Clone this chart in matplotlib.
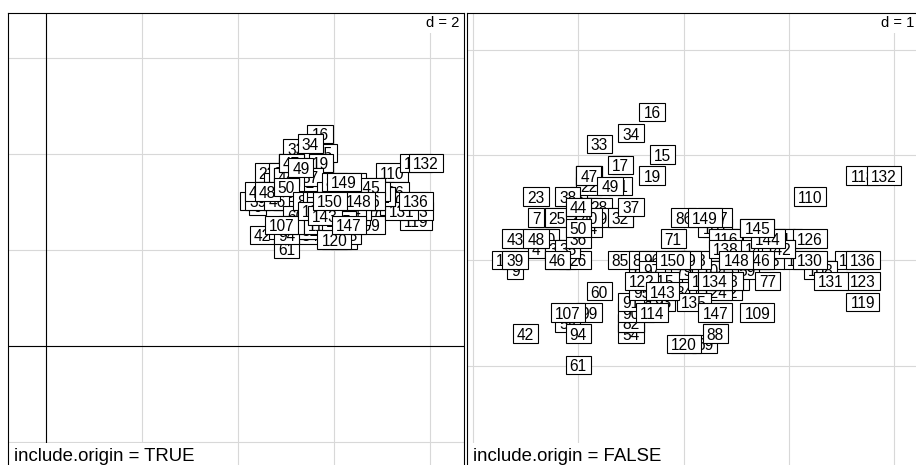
import math
import matplotlib
matplotlib.use("Agg")
import matplotlib.pyplot as plt
import matplotlib.transforms as mtransforms
from matplotlib.path import Path

# Iris sepal measurements (labels 1..150)
sepal_length = [
    5.1, 4.9, 4.7, 4.6, 5.0, 5.4, 4.6, 5.0, 4.4, 4.9,
    5.4, 4.8, 4.8, 4.3, 5.8, 5.7, 5.4, 5.1, 5.7, 5.1,
    5.4, 5.1, 4.6, 5.1, 4.8, 5.0, 5.0, 5.2, 5.2, 4.7,
    4.8, 5.4, 5.2, 5.5, 4.9, 5.0, 5.5, 4.9, 4.4, 5.1,
    5.0, 4.5, 4.4, 5.0, 5.1, 4.8, 5.1, 4.6, 5.3, 5.0,
    7.0, 6.4, 6.9, 5.5, 6.5, 5.7, 6.3, 4.9, 6.6, 5.2,
    5.0, 5.9, 6.0, 6.1, 5.6, 6.7, 5.6, 5.8, 6.2, 5.6,
    5.9, 6.1, 6.3, 6.1, 6.4, 6.6, 6.8, 6.7, 6.0, 5.7,
    5.5, 5.5, 5.8, 6.0, 5.4, 6.0, 6.7, 6.3, 5.6, 5.5,
    5.5, 6.1, 5.8, 5.0, 5.6, 5.7, 5.7, 6.2, 5.1, 5.7,
    6.3, 5.8, 7.1, 6.3, 6.5, 7.6, 4.9, 7.3, 6.7, 7.2,
    6.5, 6.4, 6.8, 5.7, 5.8, 6.4, 6.5, 7.7, 7.7, 6.0,
    6.9, 5.6, 7.7, 6.3, 6.7, 7.2, 6.2, 6.1, 6.4, 7.2,
    7.4, 7.9, 6.4, 6.3, 6.1, 7.7, 6.3, 6.4, 6.0, 6.9,
    6.7, 6.9, 5.8, 6.8, 6.7, 6.7, 6.3, 6.5, 6.2, 5.9,
]
sepal_width = [
    3.5, 3.0, 3.2, 3.1, 3.6, 3.9, 3.4, 3.4, 2.9, 3.1,
    3.7, 3.4, 3.0, 3.0, 4.0, 4.4, 3.9, 3.5, 3.8, 3.8,
    3.4, 3.7, 3.6, 3.3, 3.4, 3.0, 3.4, 3.5, 3.4, 3.2,
    3.1, 3.4, 4.1, 4.2, 3.1, 3.2, 3.5, 3.6, 3.0, 3.4,
    3.5, 2.3, 3.2, 3.5, 3.8, 3.0, 3.8, 3.2, 3.7, 3.3,
    3.2, 3.2, 3.1, 2.3, 2.8, 2.8, 3.3, 2.4, 2.9, 2.7,
    2.0, 3.0, 2.2, 2.9, 2.9, 3.1, 3.0, 2.7, 2.2, 2.5,
    3.2, 2.8, 2.5, 2.8, 2.9, 3.0, 2.8, 3.0, 2.9, 2.6,
    2.4, 2.4, 2.7, 2.7, 3.0, 3.4, 3.1, 2.3, 3.0, 2.5,
    2.6, 3.0, 2.6, 2.3, 2.7, 3.0, 2.9, 2.9, 2.5, 2.8,
    3.3, 2.7, 3.0, 2.9, 3.0, 3.0, 2.5, 2.9, 2.5, 3.6,
    3.2, 2.7, 3.0, 2.5, 2.8, 3.2, 3.0, 3.8, 2.6, 2.2,
    3.2, 2.8, 2.8, 2.7, 3.3, 3.2, 2.8, 3.0, 2.8, 3.0,
    2.8, 3.8, 2.8, 2.8, 2.6, 3.0, 3.4, 3.1, 3.0, 3.1,
    3.1, 3.1, 2.7, 3.2, 3.3, 3.0, 2.5, 3.0, 3.4, 3.0,
]
point_labels = [str(i) for i in range(1, 151)]
panel_titles = ["include.origin = TRUE", "include.origin = FALSE"]
grid_steps = ["d = 2", "d = 1"]

FONT = "Liberation Sans"
W, H, DPI = 916, 465, 100
fig = plt.figure(figsize=(W / DPI, H / DPI), dpi=DPI)
fig.patch.set_facecolor("white")

LABEL_FS = 11.2  # points


def label_box(x0, y0, width, height, mutation_size):
    padx = 0.26 * mutation_size
    h = 1.18 * mutation_size
    cy = y0 + height - 0.37 * mutation_size
    xa, xb = x0 - padx, x0 + width + padx
    ya, yb = cy - h / 2, cy + h / 2
    return Path([(xa, ya), (xb, ya), (xb, yb), (xa, yb), (xa, ya)], closed=True)


def make_panel(left_px, top_px, size_px, xlim, ylim, step, step_txt, title,
               origin, d_right_off):
    ax = fig.add_axes([left_px / W, (H - top_px - size_px) / H, size_px / W, size_px / H])
    ax.set_xlim(*xlim)
    ax.set_ylim(*ylim)
    ax.set_xticks([])
    ax.set_yticks([])
    for s in ax.spines.values():
        s.set_color("black")
        s.set_linewidth(0.8)
        s.set_zorder(10)
    # grid
    k0 = math.ceil(xlim[0] / step)
    k1 = math.floor(xlim[1] / step)
    for k in range(k0, k1 + 1):
        ax.axvline(k * step, color="#d8d8d8", lw=0.8, zorder=1)
    k0 = math.ceil(ylim[0] / step)
    k1 = math.floor(ylim[1] / step)
    for k in range(k0, k1 + 1):
        ax.axhline(k * step, color="#d8d8d8", lw=0.8, zorder=1)
    if origin:
        ax.axvline(0, color="black", lw=0.8, zorder=1.5)
        ax.axhline(0, color="black", lw=0.8, zorder=1.5)
    fs_px = LABEL_FS * DPI / 72.0
    off = mtransforms.ScaledTranslation(0, -0.358 * fs_px / DPI, fig.dpi_scale_trans)
    for xv, yv, lab in zip(sepal_length, sepal_width, point_labels):
        ax.text(xv, yv, lab, ha="center", va="baseline", fontsize=LABEL_FS,
                family=FONT, transform=ax.transData + off, zorder=3,
                bbox=dict(boxstyle=label_box, fc="white", ec="black", lw=0.8),
                clip_on=True)
    # d = ... text
    t1 = ax.transAxes + mtransforms.ScaledTranslation(-d_right_off / DPI, -13.7 / DPI,
                                                       fig.dpi_scale_trans)
    ax.text(1, 1, step_txt, ha="right", va="baseline", fontsize=10.6, family=FONT,
            transform=t1, zorder=5,
            bbox=dict(boxstyle="square,pad=0.25", fc="white", ec="none"))
    t2 = ax.transAxes + mtransforms.ScaledTranslation(6 / DPI, -447.7 / DPI, fig.dpi_scale_trans)
    ax.text(0, 1, title, ha="left", va="baseline", fontsize=13.4, family=FONT,
            transform=t2, zorder=5,
            bbox=dict(boxstyle="square,pad=0.25", fc="white", ec="none"))
    return ax


SIZE = 456
# left panel: 48 px / unit, origin at (46.4, 345.8)
sc1 = 48.0
x0 = (8 - 46.4) / sc1
y1 = (345.8 - 13) / sc1
make_panel(8, 13, SIZE, (x0, x0 + SIZE / sc1), (y1 - SIZE / sc1, y1), 2,
           grid_steps[0], panel_titles[0], True, 5)

# right panel: 105.33 px / unit, x=5 at 578.3, y=2 at 365.7
sc2 = 105.33
x0 = 5 + (467 - 578.3) / sc2
y1 = 2 + (365.7 - 13) / sc2
make_panel(467, 13, SIZE, (x0, x0 + SIZE / sc2), (y1 - SIZE / sc2, y1), 1,
           grid_steps[1], panel_titles[1], False, 9)

fig.savefig("out.png", dpi=DPI, facecolor="white")
